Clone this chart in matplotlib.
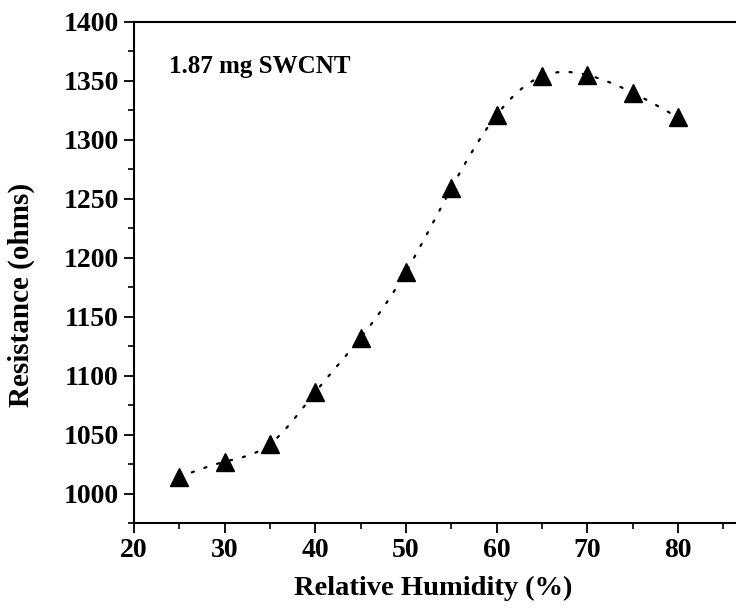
import numpy as np
import matplotlib
matplotlib.use("Agg")
import matplotlib.pyplot as plt
from matplotlib.ticker import MultipleLocator

humidity = [25, 30, 35, 40, 45, 50, 55, 60, 65, 70, 75, 80]
resistance = [1014, 1027, 1042, 1086, 1132, 1188, 1259, 1321, 1354, 1355, 1340, 1319]
x_ticks = [20, 30, 40, 50, 60, 70, 80]
y_ticks = [1000, 1050, 1100, 1150, 1200, 1250, 1300, 1350, 1400]
sample_label = "1.87 mg SWCNT"


def natural_spline(x, y, xs):
    x = np.asarray(x, float)
    y = np.asarray(y, float)
    n = len(x)
    h = np.diff(x)
    A = np.zeros((n, n))
    b = np.zeros(n)
    A[0, 0] = 1
    A[-1, -1] = 1
    for i in range(1, n - 1):
        A[i, i - 1] = h[i - 1]
        A[i, i] = 2 * (h[i - 1] + h[i])
        A[i, i + 1] = h[i]
        b[i] = 3 * ((y[i + 1] - y[i]) / h[i] - (y[i] - y[i - 1]) / h[i - 1])
    c = np.linalg.solve(A, b)
    bb = (y[1:] - y[:-1]) / h - h * (2 * c[:-1] + c[1:]) / 3
    d = (c[1:] - c[:-1]) / (3 * h)
    idx = np.clip(np.searchsorted(x, xs) - 1, 0, n - 2)
    dx = xs - x[idx]
    return y[idx] + bb[idx] * dx + c[idx] * dx ** 2 + d[idx] * dx ** 3


plt.rcParams['font.family'] = ['Liberation Serif', 'DejaVu Serif']
plt.rcParams['font.weight'] = 'bold'

fig = plt.figure(figsize=(7.36, 6.10), dpi=100)
ax = fig.add_axes([0.182, 0.1426, 0.818, 0.8214])

xs = np.linspace(humidity[0], humidity[-1], 400)
ax.plot(xs, natural_spline(humidity, resistance, xs), color='black', lw=1.6,
        linestyle=(0, (1, 5)), dash_capstyle='round')
ax.plot(humidity, resistance, linestyle='none', marker='^', ms=12.5, color='black')

ax.set_xlim(20, 86.4)
ax.set_ylim(975, 1400)
ax.set_xticks(x_ticks)
ax.set_yticks(y_ticks)
ax.xaxis.set_minor_locator(MultipleLocator(5))
ax.yaxis.set_minor_locator(MultipleLocator(25))
ax.tick_params(which='major', direction='out', length=7, width=1.3, labelsize=20, pad=4)
ax.tick_params(which='minor', direction='out', length=4, width=1.2)
ax.tick_params(top=False, right=False, which='both')
for lab in ax.get_xticklabels() + ax.get_yticklabels():
    lab.set_fontweight('bold')

ax.spines['right'].set_visible(False)
for s in ['left', 'bottom', 'top']:
    ax.spines[s].set_linewidth(1.5)

ax.set_xlabel('Relative Humidity (%)', fontsize=20.5, fontweight='bold')
ax.set_ylabel('Resistance (ohms)', fontsize=21, fontweight='bold')
ax.xaxis.set_label_coords(0.497, -0.105)
ax.yaxis.set_label_coords(-0.165, 0.455)
ax.text(23.85, 1362, sample_label, fontsize=18, fontweight='bold', va='center', ha='left')

fig.savefig('out.png', dpi=100)
